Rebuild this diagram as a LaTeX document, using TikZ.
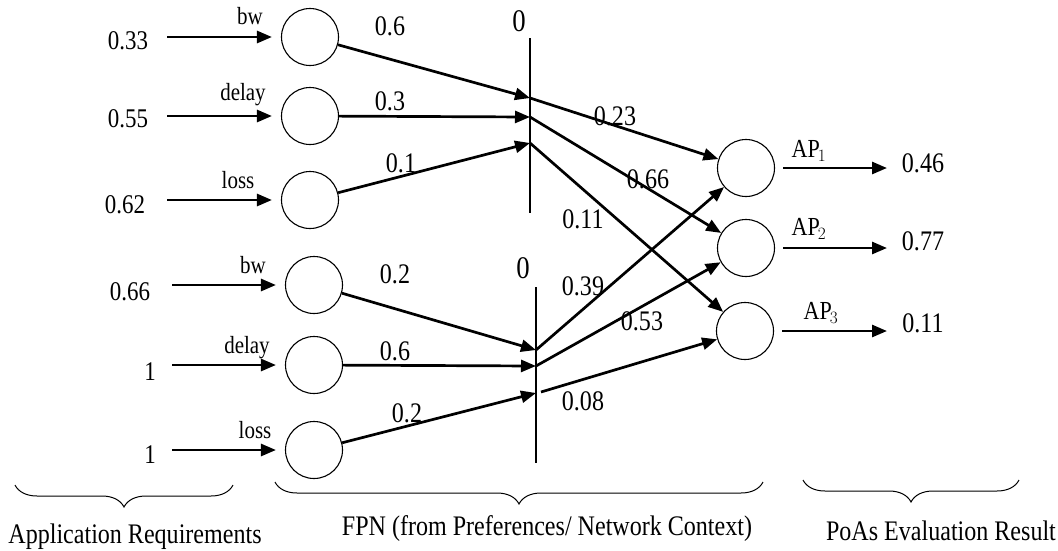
\documentclass[tikz,border=0pt]{standalone}
\usepackage{fontspec}
\setmainfont{Liberation Serif}[FakeStretch=0.85]
\usetikzlibrary{arrows.meta,decorations.pathreplacing}
\begin{document}
\begin{tikzpicture}[x=1pt,y=-1pt,
  neuron/.style={draw,circle,line width=1.1pt,minimum size=57pt,inner sep=0pt},
  arr/.style={line width=2.7pt,-{Triangle[length=15pt,width=12pt]}},
  lbl/.style={inner sep=0pt,font=\fontsize{24.7}{25}\selectfont},
  val/.style={inner sep=0pt,font=\fontsize{27}{27}\selectfont},
  wt/.style={inner sep=0pt,font=\fontsize{28.3}{28}\selectfont},
  zero/.style={inner sep=0pt,font=\fontsize{31.5}{32}\selectfont},
  aplbl/.style={inner sep=0pt,font=\fontsize{26}{26}\selectfont},
  bar/.style={line width=1.1pt},
  br/.style={decorate,decoration={brace,mirror,amplitude=22pt},line width=1pt},
  captext/.style={inner sep=0pt,font=\fontsize{28.3}{28}\selectfont}]
\useasboundingbox (0,0) rectangle (1058,550);
% neurons
\node[neuron] (c1) at (310,37) {};
\node[neuron] (c2) at (310,116) {};
\node[neuron] (c3) at (310,200) {};
\node[neuron] (c4) at (314,285) {};
\node[neuron] (c5) at (314,365) {};
\node[neuron] (c6) at (314,450) {};
\node[neuron] (o1) at (746,168) {};
\node[neuron] (o2) at (746,248) {};
\node[neuron] (o3) at (745,331) {};
% input values
\node[val] (v1) at (128,41) {0.33};
\node[val] (v2) at (128,119) {0.55};
\node[val] (v3) at (125,205) {0.62};
\node[val] (v4) at (130,292) {0.66};
\node[val] (v5) at (150,372) {1};
\node[val] (v6) at (150,455) {1};
% input labels
\node[lbl] (l1) at (250,16) {bw};
\node[lbl] (l2) at (243,95) {delay};
\node[lbl] (l3) at (238,180) {loss};
\node[lbl] (l4) at (253,265) {bw};
\node[lbl] (l5) at (247,348) {delay};
\node[lbl] (l6) at (255,430) {loss};
% input arrow starts
\coordinate (s1) at (167,37);
\coordinate (s2) at (167,116);
\coordinate (s3) at (167,200);
\coordinate (s4) at (172,285);
\coordinate (s5) at (172,365);
\coordinate (s6) at (172,450);
\foreach \i in {1,...,6}{\draw[arr,shorten >=9pt] (s\i) -- (c\i);}
% bars
\coordinate (b1t) at (530,38);
\coordinate (b1b) at (530,213);
\coordinate (b2t) at (536,287);
\coordinate (b2b) at (536,463);
\draw[bar] (b1t) -- (b1b);
\draw[bar] (b2t) -- (b2b);
\node[zero] (z1) at (519,21) {0};
\node[zero] (z2) at (523,268) {0};
% bar points
\coordinate (p1) at (530,98);
\coordinate (p2) at (530,117);
\coordinate (p3) at (530,143);
\coordinate (q1) at (536,350);
\coordinate (q2) at (536,366);
\coordinate (q3) at (536,393);
\coordinate (q3s) at (541,392);
% into bars
\draw[arr] (c1) -- (p1);
\draw[arr] (c2) -- (p2);
\draw[arr] (c3) -- (p3);
\draw[arr] (c4) -- (q1);
\draw[arr] (c5) -- (q2);
\draw[arr] (c6) -- (q3);
% out of bars
\draw[arr] (p1) -- (o1);
\draw[arr] (p2) -- (o2);
\draw[arr] (p3) -- (o3);
\draw[arr] (q1) -- (o1);
\draw[arr] (q2) -- (o2);
\draw[arr] (q3s) -- (o3);
% weights
\node[wt] (w1) at (390,26) {0.6};
\node[wt] (w2) at (390,101) {0.3};
\node[wt] (w3) at (401,163) {0.1};
\node[wt] (w4) at (615,116) {0.23};
\node[wt] (w5) at (648,179) {0.66};
\node[wt] (w6) at (583,219) {0.11};
\node[wt] (w7) at (395,274) {0.2};
\node[wt] (w8) at (395,351) {0.6};
\node[wt] (w9) at (407,413) {0.2};
\node[wt] (w10) at (583,286) {0.39};
\node[wt] (w11) at (642,321) {0.53};
\node[wt] (w12) at (583,401) {0.08};
% outputs
\coordinate (e1) at (887,166);
\coordinate (e2) at (887,246);
\coordinate (e3) at (887,330);
\draw[arr,shorten <=8pt] (o1) -- (o1 -| e1) ;
\draw[arr,shorten <=8pt] (o2) -- (o2 -| e2);
\draw[arr,shorten <=8pt] (o3) -- (o3 -| e3);
\node[aplbl] (a1) at (809,151) {AP\kern-2pt$_{\scriptstyle 1}$};
\node[aplbl] (a2) at (809,229) {AP\kern-2pt$_{\scriptstyle 2}$};
\node[aplbl] (a3) at (821,313) {AP\kern-2pt$_{\scriptstyle 3}$};
\node[wt] (r1) at (923,163) {0.46};
\node[wt] (r2) at (923,241) {0.77};
\node[wt] (r3) at (923,323) {0.11};
% braces
\draw[br] (15,485) -- (233,485);
\draw[br] (275,482) -- (763,482);
\draw[br] (803,480) -- (1019,480);
\node[captext] (t1) at (135,537) {Application Requirements};
\node[captext] (t2) at (547,529) {FPN (from Preferences/ Network Context)};
\node[captext] (t3) at (941,531) {PoAs Evaluation Result};
\end{tikzpicture}
\end{document}
